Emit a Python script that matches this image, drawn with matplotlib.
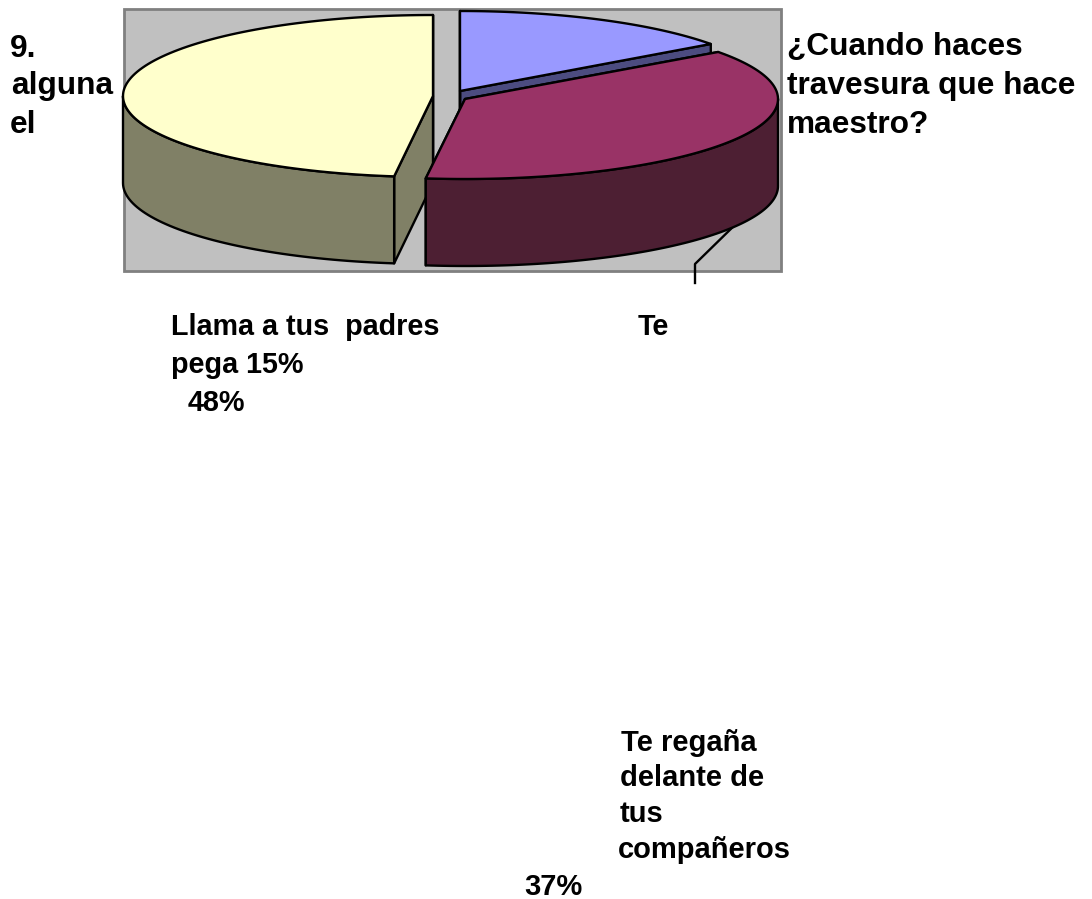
import numpy as np
import matplotlib
matplotlib.use("Agg")
import matplotlib.pyplot as plt
from matplotlib.patches import Polygon, Rectangle

categories = ["Te pega", "Te regaña delante de tus compañeros", "Llama a tus padres"]
values = [15, 37, 48]
top_colors = ["#9999FF", "#993366", "#FFFFCC"]
side_colors = ["#4C4C80", "#4D1F33", "#808066"]

plt.rcParams["font.family"] = ["Liberation Sans", "DejaVu Sans"]
fig = plt.figure(figsize=(10.92, 8.99), dpi=100)
ax = fig.add_axes([0, 0, 1, 1])
ax.set_xlim(0, 1092)
ax.set_ylim(899, 0)
ax.axis("off")

ax.add_patch(Rectangle((123.5, 9), 657.5, 261.5, fc="#C0C0C0", ec="#808080", lw=2, zorder=0))

centres = [(460, 91), (465, 99), (433, 96)]
radii = [(310, 80), (313, 80), (310, 81)]
depth = 87
order = [0, 2, 1]
fracs = np.array(values) / sum(values)
ends = 90 - 360 * np.cumsum(fracs)
starts = ends + 360 * fracs
k = dict(ec="black", lw=1.7, joinstyle="round")


def pts(i, a, b, n=120):
    t = np.radians(np.linspace(a, b, n))
    cx, cy = centres[i]
    rx, ry = radii[i]
    return np.column_stack([cx + rx * np.cos(t), cy - ry * np.sin(t)])


z = 1
for i in order:
    a, b = ends[i], starts[i]
    down = np.array([0, depth])
    c = np.array(centres[i], float)
    # inner radial faces
    for ang in (a, b):
        p = pts(i, ang, ang, 1)[0]
        ax.add_patch(Polygon([c, p, p + down, c + down], fc=side_colors[i], zorder=z, **k))
        z += 1
    # outer rim
    rim = pts(i, a, b)
    lower = rim[np.sin(np.radians(np.linspace(a, b, 120))) <= 0.02]
    if len(lower) > 1:
        ax.add_patch(Polygon(np.vstack([lower, (lower + down)[::-1]]), fc=side_colors[i], zorder=z, **k))
        z += 1
    ax.add_patch(Polygon(np.vstack([c, rim]), fc=top_colors[i], zorder=z, **k))
    z += 1

ax.plot([740, 695, 695], [220, 264, 283], color="black", lw=1.7, zorder=0.5)

big = 22.8
mid = 20.7
small = 21
labels = [
    (10, 57, "9.", big), (11, 94, "alguna", big), (10, 133, "el", big),
    (787, 55, "¿Cuando haces", big), (787, 94, "travesura que hace", big), (787, 133, "maestro?", big),
    (171, 335, "Llama a tus  padres", mid), (638, 335, "Te", mid),
    (171, 373, "pega 15%", mid), (188, 411, "48%", mid),
    (621, 751, "Te regaña", small), (620, 786, "delante de", small), (620, 822, "tus", small),
    (618, 858, "compañeros", small), (524, 895, "37%", small),
]
for x, y, s, fs in labels:
    ax.text(x, y, s, fontsize=fs, fontweight="bold", va="baseline", ha="left", color="black", zorder=50)

fig.savefig("out.png", dpi=100)
